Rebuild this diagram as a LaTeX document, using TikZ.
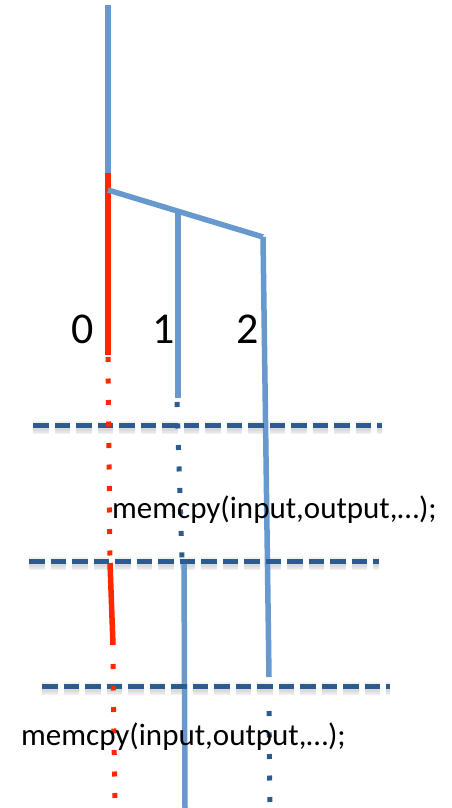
\documentclass[tikz,border=0pt]{standalone}
\usepackage{fontspec}
\setmainfont{Carlito}
\definecolor{lineblue}{RGB}{104,153,206}
\definecolor{dashblue}{RGB}{44,92,143}
\definecolor{runred}{RGB}{255,38,0}
\begin{document}
\begin{tikzpicture}[x=1pt,y=-1pt,
  thread/.style={line width=5.5pt, color=lineblue},
  active/.style={line width=5.5pt, color=runred},
  waitred/.style={line width=5pt, color=runred, dash pattern=on 5pt off 16.5pt},
  waitblue/.style={line width=5pt, color=dashblue, dash pattern=on 5pt off 16.5pt},
  barrier/.style={line width=5pt, color=dashblue, dash pattern=on 15.5pt off 6pt},
  barriershadow/.style={color=black, opacity=0.05, dash pattern=on 15.5pt off 6pt},
  lbl/.style={font=\fontsize{44}{44}\selectfont, anchor=base west, inner sep=0pt},
  code/.style={font=\fontsize{31}{31}\selectfont, anchor=base west, inner sep=0pt}]
\useasboundingbox (0,0) rectangle (452,808);

% master thread and fork
\coordinate (top) at (108,5);
\coordinate (fork) at (108,173);
\coordinate (split) at (108,190);
\coordinate (t1start) at (178,211);
\coordinate (t2start) at (263,237);

% thread 0
\coordinate (t0end) at (108,355);
\coordinate (t0waitA) at (108,357);
\coordinate (t0waitAend) at (110,561);
\coordinate (t0runB) at (110,563);
\coordinate (t0runBend) at (113,645);
\coordinate (t0waitC) at (113,664);
\coordinate (t0waitCend) at (115,808);

% thread 1
\coordinate (t1end) at (178,398);
\coordinate (t1wait) at (177,402);
\coordinate (t1waitend) at (182,559);
\coordinate (t1runB) at (184,561);
\coordinate (t1runBend) at (185,808);

% thread 2
\coordinate (t2end) at (269,677);
\coordinate (t2wait) at (269,711);
\coordinate (t2waitend) at (270,808);

% barriers
\coordinate (bar1L) at (33,425);  \coordinate (bar1R) at (382,425);
\coordinate (bar2L) at (29,561);  \coordinate (bar2R) at (379,561);
\coordinate (bar3L) at (42,686);  \coordinate (bar3R) at (390,686);

% soft barrier shadows
\foreach \l/\r in {bar1L/bar1R, bar2L/bar2R, bar3L/bar3R}
  \foreach \w in {7,10,13}
    \draw[barriershadow, line width=\w pt] ([yshift=-2.5pt]\l) -- ([yshift=-2.5pt]\r);

% solid thread segments
\draw[thread] (top) -- (fork);
\draw[active] (fork) -- (t0end);
\draw[thread] (split) -- (t2start);
\draw[thread] (t1start) -- (t1end);
\draw[thread] (t2start) -- (t2end);
\draw[active] (t0runB) -- (t0runBend);
\draw[thread] (t1runB) -- (t1runBend);

% barriers
\foreach \l/\r in {bar1L/bar1R, bar2L/bar2R, bar3L/bar3R}
  \draw[barrier] (\l) -- (\r);

% waiting segments
\draw[waitred] (t0waitA) -- (t0waitAend);
\draw[waitred] (t0waitC) -- (t0waitCend);
\draw[waitblue] (t1wait) -- (t1waitend);
\draw[waitblue] (t2wait) -- (t2waitend);

% thread labels
\node[lbl] (n0) at (71,343) {0};
\node[lbl] (n1) at (152,343) {1};
\node[lbl] (n2) at (236,343) {2};

% copy calls
\node[code] (copyA) at (112,518) {memcpy(input,output,…);};
\node[code] (copyB) at (21,745) {memcpy(input,output,…);};
\end{tikzpicture}
\end{document}
